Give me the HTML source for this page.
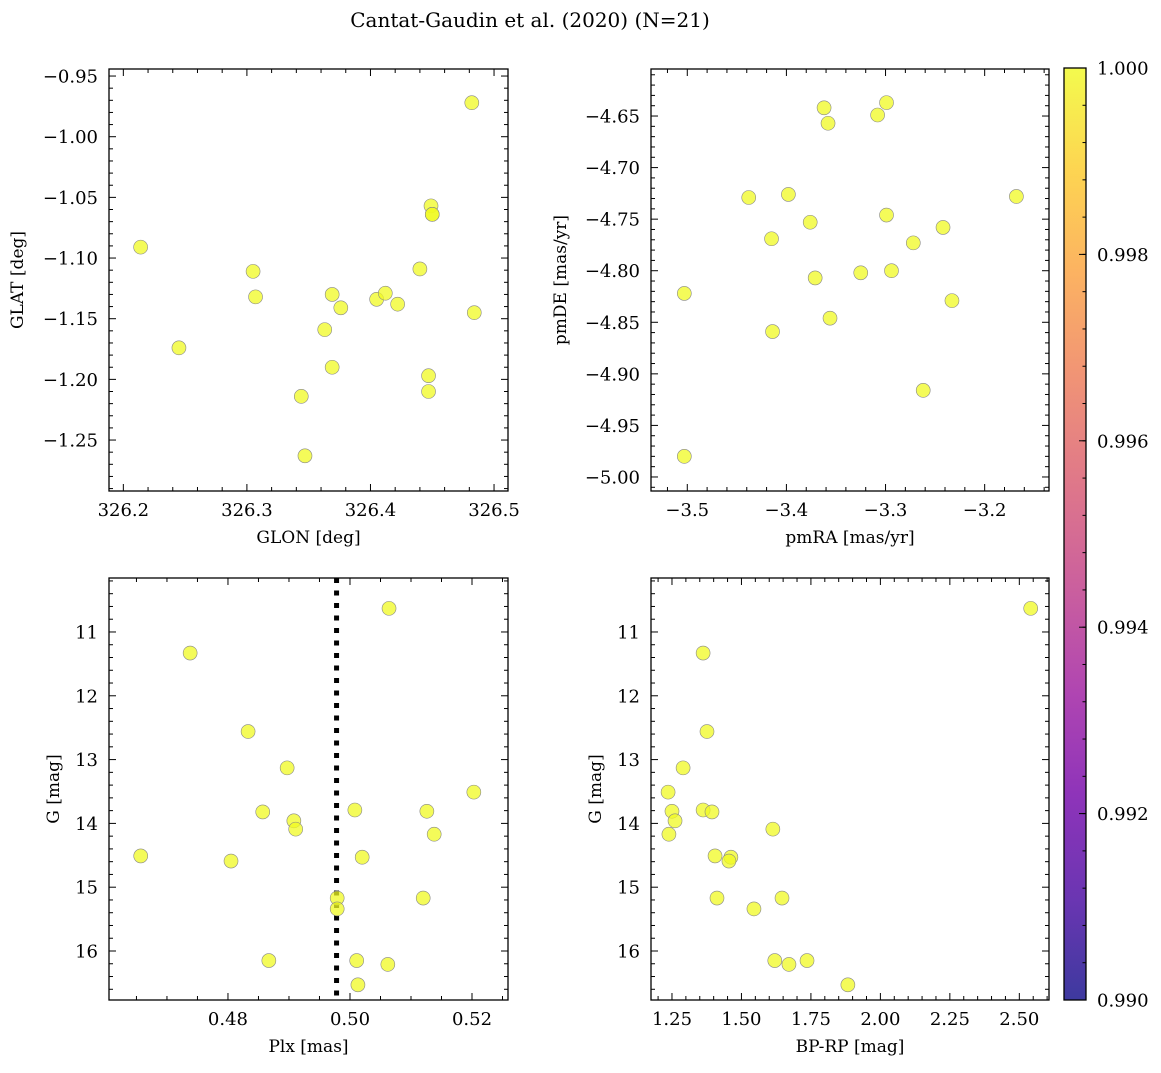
<!DOCTYPE html>
<html><head><meta charset="utf-8"><style>
body{margin:0;background:#fff;}
svg text{font-family:"DejaVu Serif","Liberation Serif",serif;fill:#000;}
</style></head><body>
<svg id="fig" width="1161" height="1068" xmlns="http://www.w3.org/2000/svg">
<defs><linearGradient id="plasma" x1="0" y1="1" x2="0" y2="0">
<stop offset="0" stop-color="#0d0887"/><stop offset="0.11" stop-color="#46039f"/><stop offset="0.22" stop-color="#7201a8"/><stop offset="0.33" stop-color="#9c179e"/><stop offset="0.44" stop-color="#bd3786"/><stop offset="0.56" stop-color="#d8576b"/><stop offset="0.67" stop-color="#ed7953"/><stop offset="0.78" stop-color="#fb9f3a"/><stop offset="0.89" stop-color="#fdca26"/><stop offset="1" stop-color="#f0f921"/>
</linearGradient></defs>
<text x="530" y="27" font-size="20" text-anchor="middle">Cantat-Gaudin et al. (2020) (N=21)</text>
</svg>
<script>
const glon=[326.214,326.245,326.305,326.307,326.363,326.369,326.369,326.376,326.344,326.347,326.405,326.412,326.422,326.440,326.449,326.450,326.450,326.447,326.447,326.482,326.484];
const glat=[-1.091,-1.174,-1.111,-1.132,-1.159,-1.130,-1.190,-1.141,-1.214,-1.263,-1.134,-1.129,-1.138,-1.109,-1.057,-1.064,-1.064,-1.197,-1.210,-0.972,-1.145];
const pmra=[-3.503,-3.503,-3.438,-3.398,-3.415,-3.414,-3.376,-3.371,-3.362,-3.358,-3.356,-3.325,-3.308,-3.299,-3.299,-3.294,-3.272,-3.262,-3.242,-3.233,-3.168];
const pmde=[-4.822,-4.980,-4.729,-4.726,-4.769,-4.859,-4.753,-4.807,-4.642,-4.657,-4.846,-4.802,-4.649,-4.637,-4.746,-4.800,-4.773,-4.916,-4.758,-4.829,-4.728];
const plx=[0.4657,0.4738,0.4805,0.4833,0.4857,0.4867,0.4897,0.4908,0.4911,0.4979,0.4979,0.5008,0.5011,0.5013,0.5020,0.5062,0.5064,0.5120,0.5126,0.5138,0.5203];
const gmagPlx=[14.51,11.33,14.59,12.56,13.82,16.15,13.13,13.96,14.09,15.17,15.34,13.79,16.15,16.53,14.53,16.21,10.63,15.17,13.81,14.17,13.51];
const bprp=[2.541,1.362,1.376,1.290,1.236,1.250,1.261,1.239,1.362,1.394,1.405,1.462,1.455,1.412,1.545,1.646,1.620,1.671,1.736,1.883,1.613];
const gmagCmd=[10.63,11.33,12.56,13.13,13.51,13.81,13.96,14.17,13.79,13.82,14.51,14.53,14.59,15.17,15.34,15.17,16.15,16.21,16.15,16.53,14.09];
const plxMean=[0.4978];
const cbTicks=[0.990,0.992,0.994,0.996,0.998,1.000];

const NS='http://www.w3.org/2000/svg';
const svg=document.getElementById('fig');
function mk(tag,attrs,parent){const e=document.createElementNS(NS,tag);for(const k in attrs)e.setAttribute(k,attrs[k]);(parent||svg).appendChild(e);return e;}
function fmt(v,d){let s=v.toFixed(d);return s.replace('-','\u2212');}

function panel(o){
  const g=mk('g',{});
  
  
  const sx=v=>o.x0+(v-o.xmin)/(o.xmax-o.xmin)*(o.x1-o.x0);
  const sy=o.yinv?(v=>o.y0+(v-o.ymin)/(o.ymax-o.ymin)*(o.y1-o.y0)):(v=>o.y1-(v-o.ymin)/(o.ymax-o.ymin)*(o.y1-o.y0));
  if(o.vline){o.vline.forEach(v=>{const l=mk('line',{x1:sx(v),x2:sx(v),y1:o.y0,y2:o.y1,stroke:'#000','stroke-width':5,'stroke-dasharray':'5 7.5'},g);
    
    });}
  o.xs.forEach((v,i)=>{const c=mk('circle',{cx:sx(v),cy:sy(o.ys[i]),r:7,fill:'#f0f921','fill-opacity':0.75,stroke:'#888','stroke-width':0.6},g);
    
    });
  const fr=mk('rect',{x:o.x0,y:o.y0,width:o.x1-o.x0,height:o.y1-o.y0,fill:'none',stroke:'#000','stroke-width':1.3},g);
  
  
  const eps=1e-9;
  for(let k=Math.ceil((o.xmin)/o.xminor-eps);k*o.xminor<=o.xmax+eps;k++){
    const v=k*o.xminor;const px=sx(v);
    const isMaj=Math.abs(v/o.xmajor-Math.round(v/o.xmajor))<1e-6;const L=isMaj?7:4;
    mk('line',{x1:px,x2:px,y1:o.y1,y2:o.y1-L,stroke:'#000','stroke-width':1},g);
    mk('line',{x1:px,x2:px,y1:o.y0,y2:o.y0+L,stroke:'#000','stroke-width':1},g);
    if(isMaj){const t=mk('text',{x:px,y:o.y1+25,'font-size':18,'text-anchor':'middle'},g);t.textContent=fmt(v,o.xd);
      
      }
  }
  for(let k=Math.ceil((Math.min(o.ymin,o.ymax))/o.yminor-eps);k*o.yminor<=Math.max(o.ymin,o.ymax)+eps;k++){
    const v=k*o.yminor;const py=sy(v);
    const isMaj=Math.abs(v/o.ymajor-Math.round(v/o.ymajor))<1e-6;const L=isMaj?7:4;
    mk('line',{x1:o.x0,x2:o.x0+L,y1:py,y2:py,stroke:'#000','stroke-width':1},g);
    mk('line',{x1:o.x1,x2:o.x1-L,y1:py,y2:py,stroke:'#000','stroke-width':1},g);
    if(isMaj){const t=mk('text',{x:o.x0-11,y:py+6.5,'font-size':18,'text-anchor':'end'},g);t.textContent=fmt(v,o.yd);
      
      }
  }
  const xl=mk('text',{x:(o.x0+o.x1)/2,y:o.y1+52,'font-size':17,'text-anchor':'middle'},g);xl.textContent=o.xlabel;
  
  
  const yl=mk('text',{x:0,y:0,'font-size':17,'text-anchor':'middle',transform:`translate(${o.ylx},${(o.y0+o.y1)/2}) rotate(-90)`},g);yl.textContent=o.ylabel;
  
  
}
panel({name:'glon-glat-panel',x0:109,x1:508,y0:69,y1:491,xmin:326.1884,xmax:326.5113,ymin:-1.292,ymax:-0.9442,xmajor:0.1,xminor:0.02,ymajor:0.05,yminor:0.01,xd:1,yd:2,xs:glon,ys:glat,xlabel:'GLON [deg]',ylabel:'GLAT [deg]',ylx:23});
panel({name:'proper-motion-panel',x0:651,x1:1049,y0:69,y1:491,xmin:-3.5366,xmax:-3.1351,ymin:-5.0136,ymax:-4.6044,xmajor:0.1,xminor:0.02,ymajor:0.05,yminor:0.01,xd:1,yd:2,xs:pmra,ys:pmde,xlabel:'pmRA [mas/yr]',ylabel:'pmDE [mas/yr]',ylx:566});
panel({name:'parallax-mag-panel',x0:109,x1:508,y0:578,y1:1000,xmin:0.4605,xmax:0.5259,ymin:10.154,ymax:16.768,yinv:true,xmajor:0.02,xminor:0.005,ymajor:1,yminor:0.2,xd:2,yd:0,xs:plx,ys:gmagPlx,xlabel:'Plx [mas]',ylabel:'G [mag]',ylx:59,vline:plxMean});
panel({name:'cmd-panel',x0:651,x1:1049,y0:578,y1:1000,xmin:1.1745,xmax:2.6068,ymin:10.154,ymax:16.768,yinv:true,xmajor:0.25,xminor:0.05,ymajor:1,yminor:0.2,xd:2,yd:0,xs:bprp,ys:gmagCmd,xlabel:'BP-RP [mag]',ylabel:'G [mag]',ylx:601});

const cb=mk('g',{});


const cx0=1064,cx1=1086,cy0=68,cy1=1000;
mk('rect',{x:cx0,y:cy0,width:cx1-cx0,height:cy1-cy0,fill:'url(#plasma)','fill-opacity':0.8},cb);
mk('rect',{x:cx0,y:cy0,width:cx1-cx0,height:cy1-cy0,fill:'none',stroke:'#000','stroke-width':1.3},cb);
const cby=v=>cy1-(v-0.990)/(0.010)*(cy1-cy0);
for(let k=0;k<=25;k++){const v=0.990+k*0.0004;const py=cby(v);mk('line',{x1:cx1,x2:cx1-3.5,y1:py,y2:py,stroke:'#000','stroke-width':1},cb);}
cbTicks.forEach(v=>{const py=cby(v);mk('line',{x1:cx1,x2:cx1-7,y1:py,y2:py,stroke:'#000','stroke-width':1},cb);
  const t=mk('text',{x:cx1+11,y:py+6.5,'font-size':18},cb);t.textContent=v.toFixed(3);
  
  });
</script>
</body></html>
